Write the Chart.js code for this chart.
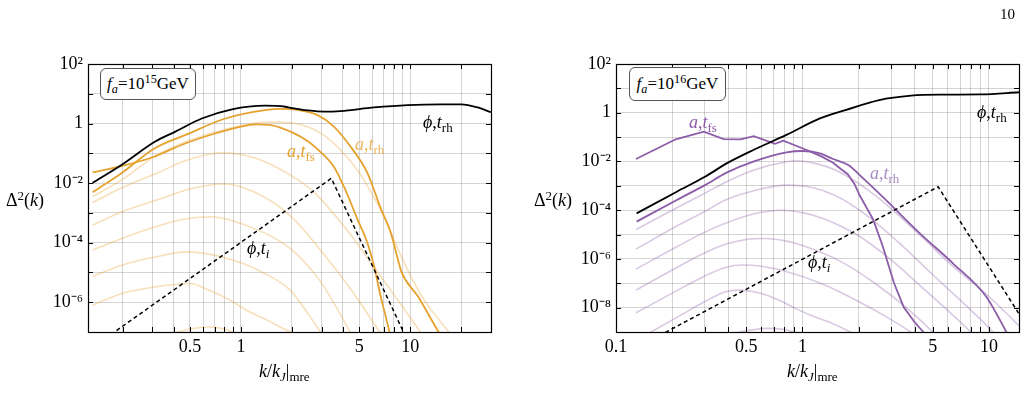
<!DOCTYPE html>
<html>
<head>
<meta charset="utf-8">
<script src="https://cdn.jsdelivr.net/npm/chart.js@4.4.1/dist/chart.umd.min.js"></script>
<style>
  html,body{margin:0;padding:0;background:#fff;}
  #wrap{position:relative;width:1028px;height:404px;overflow:hidden;font-family:"Liberation Serif","Times New Roman",serif;color:#000;}
  canvas{position:absolute;top:0;}
  .lab{position:absolute;font-size:18px;line-height:20px;white-space:nowrap;}
  .lab sub{font-size:0.72em;vertical-align:-0.3em;line-height:0;font-style:normal;}
  .lab sub i{font-style:italic;}
  .lab sup{font-size:0.72em;vertical-align:0.45em;line-height:0;}
  .box{position:absolute;border:1px solid #555;border-radius:6px;background:#fff;font-size:17px;line-height:30px;text-align:center;white-space:nowrap;}
  .box sub{font-size:0.72em;vertical-align:-0.3em;line-height:0;}
  .box sup{font-size:0.72em;vertical-align:0.5em;line-height:0;}
</style>
</head>
<body>
<div id="wrap">
  <canvas id="cL" width="512" height="404" style="left:0px"></canvas>
  <canvas id="cR" width="516" height="404" style="left:512px"></canvas>

  <div class="lab" style="left:1000px;top:4px;font-size:15px;">10</div>

  <div class="box" style="left:100px;top:68px;width:94px;height:30px;"><i>f</i><sub><i>a</i></sub>=10<sup>15</sup>GeV</div>
  <div class="box" style="left:629px;top:67px;width:95px;height:32px;line-height:32px;"><i>f</i><sub><i>a</i></sub>=10<sup>16</sup>GeV</div>

  <div class="lab" style="left:6px;top:190px;">Δ<sup>2</sup>(<i>k</i>)</div>
  <div class="lab" style="left:534px;top:190px;">Δ<sup>2</sup>(<i>k</i>)</div>
  <div class="lab" style="left:259px;top:361px;"><i>k</i>/<i>k</i><sub><i>J</i></sub>|<sub>mre</sub></div>
  <div class="lab" style="left:787px;top:361px;"><i>k</i>/<i>k</i><sub><i>J</i></sub>|<sub>mre</sub></div>

  <div class="lab" style="left:423px;top:112px;"><i>ϕ</i>,<i>t</i><sub>rh</sub></div>
  <div class="lab" style="left:355px;top:134px;color:#EDB55E;"><i>a</i>,<i>t</i><sub>rh</sub></div>
  <div class="lab" style="left:287px;top:141px;color:#E6A22E;"><i>a</i>,<i>t</i><sub>fs</sub></div>
  <div class="lab" style="left:247px;top:238px;"><i>ϕ</i>,<i>t</i><sub><i>i</i></sub></div>

  <div class="lab" style="left:977px;top:102px;"><i>ϕ</i>,<i>t</i><sub>rh</sub></div>
  <div class="lab" style="left:689px;top:112px;color:#8C5CA8;"><i>a</i>,<i>t</i><sub>fs</sub></div>
  <div class="lab" style="left:870px;top:163px;color:#A98BC2;"><i>a</i>,<i>t</i><sub>rh</sub></div>
  <div class="lab" style="left:808px;top:252px;"><i>ϕ</i>,<i>t</i><sub><i>i</i></sub></div>
</div>
<script>
// ---------------- axis ticks ----------------
const leftXTicks  = [0.2,0.3,0.4,0.5,0.6,0.7,0.8,0.9,1,2,3,4,5,6,7,8,9,10,20,30];
const leftXLabels = [[0.5,'0.5'],[1,'1'],[5,'5'],[10,'10']];
const rightXTicks = [0.1,0.2,0.3,0.4,0.5,0.6,0.7,0.8,0.9,1,2,3,4,5,6,7,8,9,10];
const rightXLabels= [[0.1,'0.1'],[0.5,'0.5'],[1,'1'],[5,'5'],[10,'10']];
const leftYTicks  = [1e-7,1e-6,1e-5,1e-4,1e-3,1e-2,1e-1,1,1e1,1e2];
const leftYLabels = [[1e2,'10²'],[1,'1'],[1e-2,'10⁻²'],[1e-4,'10⁻⁴'],[1e-6,'10⁻⁶']];
const rightYTicks = [1e-9,1e-8,1e-7,1e-6,1e-5,1e-4,1e-3,1e-2,1e-1,1,1e1,1e2];
const rightYLabels= [[1e2,'10²'],[1,'1'],[1e-2,'10⁻²'],[1e-4,'10⁻⁴'],[1e-6,'10⁻⁶'],[1e-8,'10⁻⁸']];

// ---------------- left panel (f_a = 1e15 GeV) ----------------
const L_phiRh_k = [0.133,0.197,0.31,0.41,0.587,0.885,1.39,1.83,1.96,2.5,3.09,3.88,6.12,9.66,15.2,20,25.1,30];
const L_phiRh_v = [1.02e-2,4.07e-2,0.245,0.537,1.48,3.02,3.98,3.67,3.39,2.75,2.51,2.63,3.47,4.17,4.42,4.42,3.47,2.40];
const L_aFs_k = [0.133,0.197,0.297,0.468,0.736,1.0,1.24,1.5,2.05,2.5,2.95,3.54,4.06,4.87,5.6,6.13,6.7,7.5,7.8];
const L_aFs_v = [2.29e-2,3.72e-2,7.24e-2,0.214,0.501,0.794,0.933,0.891,0.479,0.251,0.112,3.55e-2,7.59e-3,6.31e-4,9.33e-5,1.55e-5,1.51e-6,1.15e-7,3.98e-8];
const L_aRh_k = [0.133,0.197,0.31,0.468,0.81,1.39,1.71,2.2,2.82,3.54,4.45,5.6,6.7,7.7,8.4,8.9,11.1,14.5,15.5];
const L_aRh_v = [4.90e-3,2.14e-2,0.148,0.407,1.48,2.82,3.09,2.82,1.95,0.794,0.166,2.14e-2,1.41e-3,2.04e-4,3.16e-5,1.0e-5,1.58e-6,1.15e-7,6.31e-8];
const L_s1_k = [0.133,0.197,0.31,0.468,0.8,1.43,1.96,2.5,3.09,3.88,4.87,6.0,7.18,8.3,9.66,12.1,16.6,18];
const L_s1_v = [3.55e-3,1.26e-2,7.94e-2,0.24,0.631,1.12,1.07,0.759,0.407,0.129,2.75e-2,3.98e-3,5.75e-4,7.94e-5,1.2e-5,1.17e-6,1.15e-7,6.31e-8];
const L_s2_k = [0.133,0.2,0.318,0.478,0.77,1.2,1.96,2.7,4.0,6.0,8.5,11.3,12.5];
const L_s2_v = [2.24e-3,7.08e-3,2.14e-2,5.89e-2,0.105,7.08e-2,1.86e-2,5.01e-3,3.98e-4,1.78e-5,1.12e-6,1.15e-7,5.01e-8];
const L_s3_k = [0.133,0.2,0.318,0.5,0.79,1.2,1.96,3.0,4.5,6.5,7.2];
const L_s3_v = [3.89e-4,1.12e-3,2.69e-3,6.31e-3,9.33e-3,5.01e-3,7.94e-4,5.01e-5,2.51e-6,1.15e-7,5.01e-8];
const L_s4_k = [0.133,0.2,0.3,0.45,0.66,1.13,1.96,2.95,3.6,4.35,4.6];
const L_s4_v = [5.62e-5,1.41e-4,3.16e-4,6.03e-4,7.41e-4,3.39e-4,6.31e-5,5.01e-6,7.94e-7,1.15e-7,6.31e-8];
const L_s5_k = [0.133,0.2,0.3,0.48,0.9,1.4,1.96,2.5,2.95,3.1];
const L_s5_v = [7.41e-6,1.78e-5,3.16e-5,4.9e-5,2.57e-5,8.91e-6,2.51e-6,3.98e-7,1.0e-7,6.31e-8];
const L_s6_k = [0.133,0.2,0.3,0.5,0.65,0.83,1.08,1.43,1.8,2.05];
const L_s6_v = [7.94e-7,2.0e-6,3.16e-6,4.27e-6,2.51e-6,1.32e-6,5.37e-7,2.51e-7,1.26e-7,8.91e-8];
const L_s7_k = [0.3,0.4,0.5,0.65,0.8,0.95];
const L_s7_v = [5.01e-8,8.91e-8,1.26e-7,1.48e-7,1.26e-7,8.91e-8];
const L_phiI_k = [0.125,3.42,9.3];
const L_phiI_v = [2.34e-8,1.45e-2,7.94e-8];

// ---------------- right panel (f_a = 1e16 GeV) ----------------
const R_phiRh_k = [0.129,0.212,0.30,0.392,0.545,0.82,1.24,1.7,2.58,3.83,5.6,9.1,14.5];
const R_phiRh_v = [7.41e-5,5.75e-4,2.34e-3,8.32e-3,2.95e-2,0.123,0.589,1.29,3.31,5.01,5.5,5.62,6.92];
const R_aFs_k = [0.128,0.209,0.296,0.378,0.465,0.548,0.713,0.79,1.03,1.27,1.46,1.6,1.75,1.9,2.03,2.4,2.7,3.1,3.5,4.0,4.45,4.7];
const R_aFs_v = [1.26e-2,8.13e-2,0.166,8.32e-2,8.13e-2,0.11,5.25e-2,7.08e-2,3.16e-2,1.58e-2,8.9e-3,5.0e-3,3.0e-3,1.2e-3,4.0e-4,3.98e-5,3.16e-6,1.0e-7,1.0e-8,2.51e-9,1.0e-9,6.31e-10];
const R_aRh_k = [0.129,0.212,0.30,0.392,0.545,0.82,1.0,1.24,1.46,1.76,2.16,2.8,4.26,6.41,9.68,12.4,13];
const R_aRh_v = [3.39e-5,2.63e-4,1.07e-3,3.47e-3,9.77e-3,2.34e-2,2.69e-2,2.14e-2,1.26e-2,7.08e-3,1.74e-3,2.63e-4,1.12e-5,6.61e-7,2.82e-8,1.0e-9,5.0e-10];
const R_s1_k = [0.128,0.212,0.3,0.392,0.55,0.82,0.93,1.2,1.5,2.0,2.8,4.3,6.4,9.7,12.3,14.5];
const R_s1_v = [1.62e-5,1.26e-4,5.01e-4,1.48e-3,4.47e-3,9.77e-3,1.07e-2,7.94e-3,4.47e-3,1.26e-3,1.78e-4,8.91e-6,5.01e-7,3.55e-8,6.31e-9,1.78e-9];
const R_s2_k = [0.128,0.212,0.3,0.386,0.55,0.82,1.1,1.5,2.2,3.2,5.0,7.5,10.5,11];
const R_s2_v = [2.51e-6,2.24e-5,8.91e-5,2.63e-4,6.31e-4,1.07e-3,8.91e-4,3.98e-4,6.31e-5,5.62e-6,2.24e-7,1.26e-8,1.0e-9,6.31e-10];
const R_s3_k = [0.128,0.212,0.3,0.386,0.55,0.77,1.0,1.3,2.0,3.0,4.5,6.5,8.0,8.5];
const R_s3_v = [3.8e-7,3.16e-6,1.26e-5,2.88e-5,7.08e-5,1.0e-4,7.94e-5,4.47e-5,8.91e-6,8.91e-7,5.62e-8,4.47e-9,1.0e-9,6.31e-10];
const R_s4_k = [0.128,0.212,0.3,0.386,0.5,0.63,0.8,1.0,1.6,2.5,3.8,5.0,5.3];
const R_s4_v = [5.25e-8,4.47e-7,1.78e-6,3.98e-6,6.31e-6,6.92e-6,5.62e-6,3.55e-6,7.94e-7,8.91e-8,7.08e-9,1.0e-9,6.31e-10];
const R_s5_k = [0.128,0.212,0.3,0.386,0.48,0.6,0.8,1.3,2.0,3.0,3.8,4.1];
const R_s5_v = [6.17e-9,5.01e-8,2.0e-7,4.47e-7,5.62e-7,5.01e-7,3.16e-7,8.91e-8,1.78e-8,3.16e-9,1.0e-9,6.31e-10];
const R_s6_k = [0.15,0.212,0.3,0.386,0.45,0.55,0.65,0.75,0.9,1.1,1.4,1.8,2.0];
const R_s6_v = [8.91e-10,3.98e-9,1.78e-8,4.47e-8,5.25e-8,4.47e-8,3.16e-8,2.0e-8,1.0e-8,5.01e-9,2.51e-9,1.0e-9,6.31e-10];
const R_s7_k = [0.4,0.5,0.65,0.8,1.0];
const R_s7_v = [7.94e-10,1.12e-9,1.41e-9,1.26e-9,7.94e-10];
const R_phiI_k = [0.1,5.34,15];
const R_phiI_v = [7.94e-11,9.12e-4,3.72e-9];

// ---------------- styling ----------------
const ORANGE = '#E6A22E', ORANGE_LIGHT = 'rgba(230,162,46,0.33)';
const PURPLE = '#8C5CA8', PURPLE_LIGHT = 'rgba(140,92,168,0.33)';
const FONT = {family:'"Liberation Serif","Times New Roman",serif', size:18};

function pts(ks, vs){ return ks.map((k,i)=>({x:k, y:vs[i]})); }
function ds(ks, vs, color, width, extra){
  return Object.assign({data:pts(ks,vs), borderColor:color, borderWidth:width, pointRadius:0, fill:false,
                        cubicInterpolationMode:'monotone'}, extra||{});
}
function findLabel(list, v){
  for (const [val,lab] of list){ if (Math.abs(Math.log10(v)-Math.log10(val))<1e-6) return lab; }
  return '';
}

const framePlugin = {
  id:'frame',
  afterDatasetsDraw(chart){
    const {ctx, chartArea:a, scales} = chart;
    ctx.save();
    ctx.strokeStyle = '#000'; ctx.lineWidth = 1;
    ctx.beginPath();
    scales.x.ticks.forEach(t=>{
      const p = Math.round(scales.x.getPixelForValue(t.value))+0.5;
      ctx.moveTo(p,a.bottom); ctx.lineTo(p,a.bottom-5);
      ctx.moveTo(p,a.top); ctx.lineTo(p,a.top+5);
    });
    scales.y.ticks.forEach(t=>{
      const p = Math.round(scales.y.getPixelForValue(t.value))+0.5;
      ctx.moveTo(a.left,p); ctx.lineTo(a.left+5,p);
      ctx.moveTo(a.right,p); ctx.lineTo(a.right-5,p);
    });
    ctx.stroke();
    ctx.lineWidth = 1.2;
    ctx.strokeRect(Math.round(a.left)+0.5, Math.round(a.top)+0.5, Math.round(a.right-a.left), Math.round(a.bottom-a.top));
    ctx.restore();
  }
};

function makeChart(id, cfg){
  return new Chart(document.getElementById(id), {
    type:'line',
    data:{datasets:cfg.datasets},
    options:{
      responsive:false, animation:false,
      layout:{padding:{left:0, right:cfg.padRight, top:64, bottom:42}},
      plugins:{legend:{display:false}, tooltip:{enabled:false}},
      scales:{
        x:{type:'logarithmic', min:cfg.xMin, max:cfg.xMax,
           afterBuildTicks:(s)=>{ s.ticks = cfg.xTicks.map(v=>({value:v})); },
           afterFit:(s)=>{ s.height = 30; },
           grid:{color:'rgba(0,0,0,0.17)', lineWidth:1, drawTicks:false},
           border:{display:false},
           ticks:{autoSkip:false, maxRotation:0, padding:4, color:'#000', font:FONT,
                  callback:(v)=>findLabel(cfg.xLabels, v)}},
        y:{type:'logarithmic', min:cfg.yMin, max:cfg.yMax,
           afterBuildTicks:(s)=>{ s.ticks = cfg.yTicks.map(v=>({value:v})); },
           afterFit:(s)=>{ s.width = cfg.yWidth; },
           grid:{color:'rgba(0,0,0,0.17)', lineWidth:1, drawTicks:false},
           border:{display:false},
           ticks:{autoSkip:false, padding:5, color:'#000', font:FONT,
                  callback:(v)=>findLabel(cfg.yLabels, v)}}
      }
    },
    plugins:[framePlugin]
  });
}

makeChart('cL', {
  xMin:0.125, xMax:30, yMin:1e-7, yMax:1e2, yWidth:88, padRight:21,
  xTicks:leftXTicks, xLabels:leftXLabels, yTicks:leftYTicks, yLabels:leftYLabels,
  datasets:[
    ds(L_phiI_k, L_phiI_v, '#000', 1.5, {cubicInterpolationMode:'default', tension:0, borderDash:[4,3]}),
    ds(L_phiRh_k, L_phiRh_v, '#000', 1.8),
    ds(L_aFs_k, L_aFs_v, ORANGE, 1.8),
    ds(L_aRh_k, L_aRh_v, ORANGE, 1.8),
    ds(L_s1_k, L_s1_v, ORANGE_LIGHT, 1.6),
    ds(L_s2_k, L_s2_v, ORANGE_LIGHT, 1.6),
    ds(L_s3_k, L_s3_v, ORANGE_LIGHT, 1.6),
    ds(L_s4_k, L_s4_v, ORANGE_LIGHT, 1.6),
    ds(L_s5_k, L_s5_v, ORANGE_LIGHT, 1.6),
    ds(L_s6_k, L_s6_v, ORANGE_LIGHT, 1.6),
    ds(L_s7_k, L_s7_v, ORANGE_LIGHT, 1.6)
  ]
});

makeChart('cR', {
  xMin:0.1, xMax:14.5, yMin:1e-9, yMax:1e2, yWidth:104, padRight:9,
  xTicks:rightXTicks, xLabels:rightXLabels, yTicks:rightYTicks, yLabels:rightYLabels,
  datasets:[
    ds(R_phiI_k, R_phiI_v, '#000', 1.5, {cubicInterpolationMode:'default', tension:0, borderDash:[4,3]}),
    ds(R_phiRh_k, R_phiRh_v, '#000', 1.8),
    ds(R_aFs_k, R_aFs_v, PURPLE, 1.8, {cubicInterpolationMode:'default', tension:0}),
    ds(R_aRh_k, R_aRh_v, PURPLE, 1.8),
    ds(R_s1_k, R_s1_v, PURPLE_LIGHT, 1.6),
    ds(R_s2_k, R_s2_v, PURPLE_LIGHT, 1.6),
    ds(R_s3_k, R_s3_v, PURPLE_LIGHT, 1.6),
    ds(R_s4_k, R_s4_v, PURPLE_LIGHT, 1.6),
    ds(R_s5_k, R_s5_v, PURPLE_LIGHT, 1.6),
    ds(R_s6_k, R_s6_v, PURPLE_LIGHT, 1.6),
    ds(R_s7_k, R_s7_v, PURPLE_LIGHT, 1.6)
  ]
});
</script>
</body>
</html>
